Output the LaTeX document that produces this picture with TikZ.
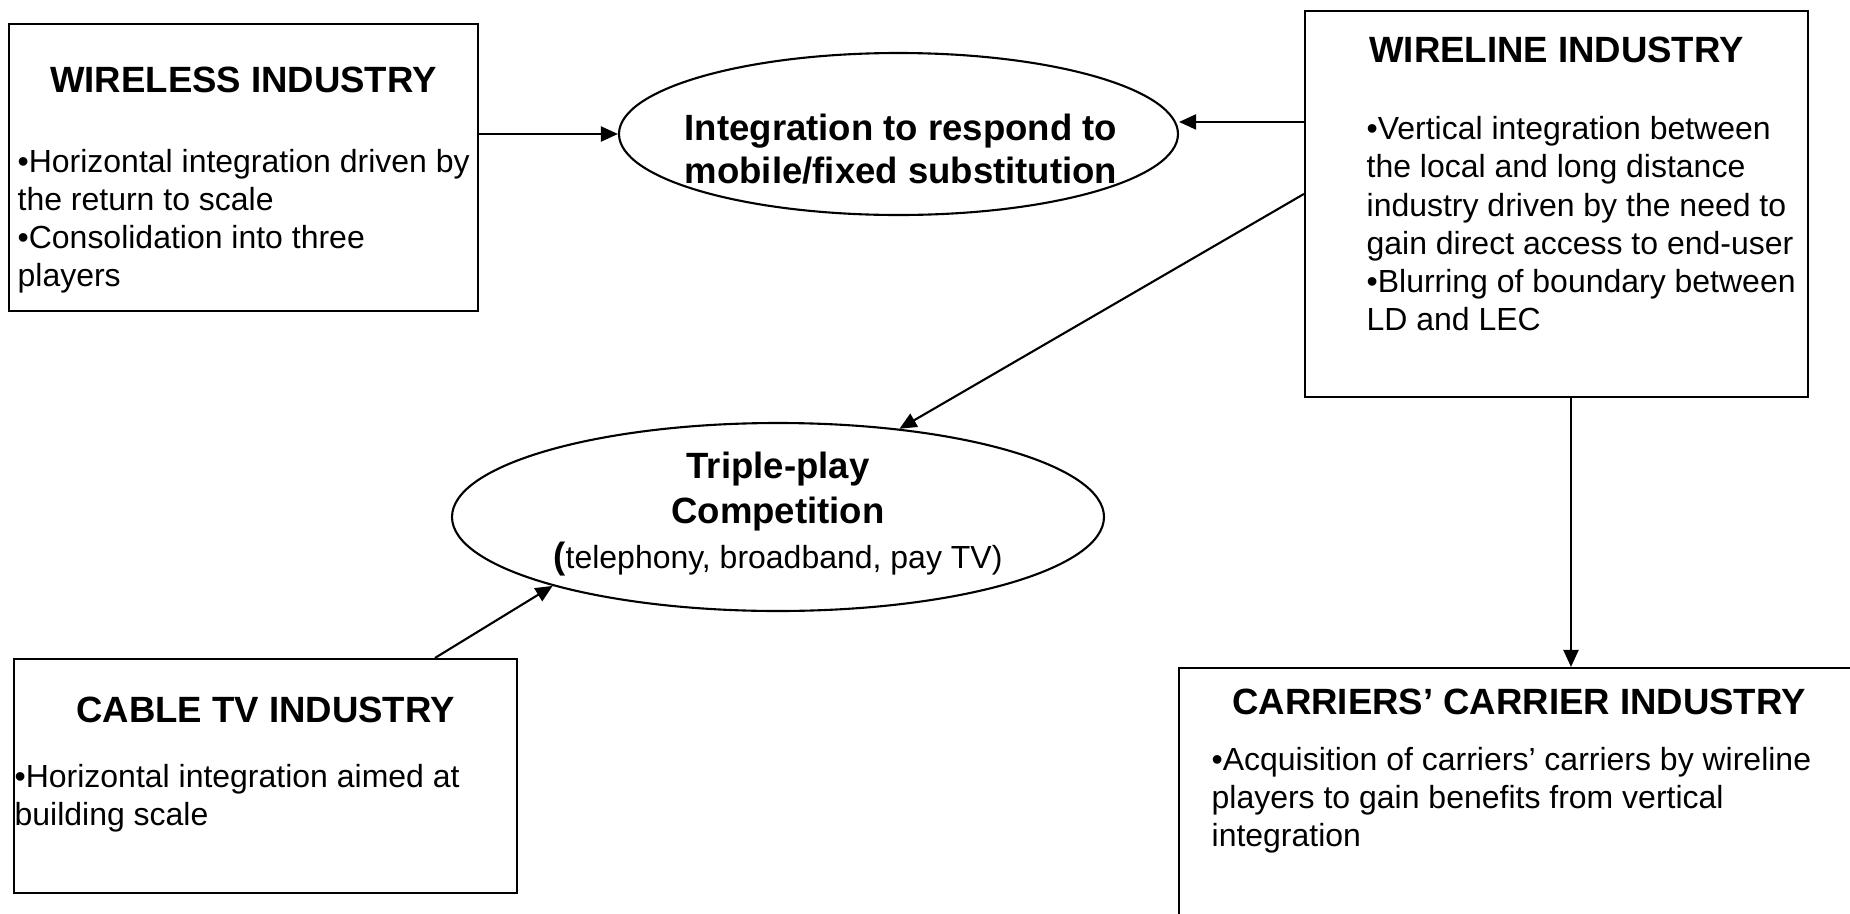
\documentclass[tikz,border=0pt]{standalone}
\usepackage{fontspec}
\setmainfont{Liberation Sans}
\usetikzlibrary{shapes,arrows.meta,positioning,calc}

\tikzset{
  industry/.style={draw, rectangle, line width=0.6pt, inner sep=0pt},
  market/.style={draw, ellipse, line width=0.6pt, inner sep=0pt},
  heading/.style={font=\fontsize{10.4}{12.5}\selectfont\bfseries, inner sep=0pt, anchor=base},
  bullets/.style={font=\fontsize{9.1}{10.9}\selectfont, align=left, inner sep=0pt, anchor=base west},
  link/.style={-{Triangle[length=1.7mm,width=1.5mm]}, line width=0.6pt},
}

\begin{document}
\begin{tikzpicture}[x=0.1mm, y=-0.1mm]
    % page frame
    \clip (0,0) rectangle (1850,914);

    % WIRELESS box top left
    \node [industry, minimum width=46.9mm, minimum height=28.7mm] (wireless) at (243.5,167.5) {};
    \node [heading] (wirelesstitle) at ($(wireless.north)+(0,70)$) {WIRELESS INDUSTRY};
    \node [bullets] (wirelesstext) at ($(wireless.north west)+(9,264)$)
        {•Horizontal integration driven by\\the return to scale\\•Consolidation into three\\players};

    % WIRELINE box top right
    \node [industry, minimum width=50.3mm, minimum height=38.6mm] (wireline) at (1556.5,204) {};
    \node [heading] (wirelinetitle) at ($(wireline.north)+(0,53)$) {WIRELINE INDUSTRY};
    \node [bullets] (wirelinetext) at ($(wireline.north west)+(62,321)$)
        {•Vertical integration between\\the local and long distance\\industry driven by the need to\\gain direct access to end-user\\•Blurring of boundary between\\LD and LEC};

    % CABLE TV box bottom left
    \node [industry, minimum width=50.3mm, minimum height=23.4mm] (cable) at (265.5,776) {};
    \node [heading] (cabletitle) at ($(cable.north)+(0,65)$) {CABLE TV INDUSTRY};
    \node [bullets] (cabletext) at ($(cable.north west)+(1,168)$)
        {•Horizontal integration aimed at\\building scale};

    % CARRIERS' CARRIER box bottom right (runs off the page)
    \node [industry, minimum width=68mm, minimum height=26.2mm] (carriers) at (1519,799) {};
    \node [heading] (carrierstitle) at ($(carriers.north)+(0,48)$) {CARRIERS’ CARRIER INDUSTRY};
    \node [bullets] (carrierstext) at ($(carriers.north west)+(33,180)$)
        {•Acquisition of carriers’ carriers by wireline\\players to gain benefits from vertical\\integration};

    % the two ellipses
    \node [market, minimum width=55.9mm, minimum height=16.2mm] (integ) at (898.5,134) {};
    \node [heading, align=center, font=\fontsize{10.4}{12.2}\selectfont\bfseries] (integtext) at (901,183)
        {Integration to respond to\\mobile/fixed substitution};
    \node [market, minimum width=65.2mm, minimum height=18.8mm] (triple) at (778,517) {};
    \node [heading, align=center, font=\fontsize{10.4}{12.8}\selectfont\bfseries] (tripletext) at (778,568)
        {Triple-play\\Competition\\(\fontsize{9.1}{12.8}\selectfont\mdseries telephony, broadband, pay TV)};

    % connections
    \coordinate (wlleft) at ($(wireline.north west)+(0,112)$);
    \coordinate (wlcross) at ($(wireline.north west)+(0,184)$);
    \coordinate (wlbottom) at ($(wireline.south)+(14.5,0)$);
    \coordinate (cbtop) at ($(cable.north)+(169.5,0)$);
    \draw [link] (integ.west -| wireless.east) -- (integ.west);
    \draw [link] (wlleft) -- (wlleft -| integ.east);
    \draw [link] (wlcross) -- (triple.36.8);
    \draw [link] (cbtop) -- (triple.197.6);
    \draw [link] (wlbottom) -- (wlbottom |- carriers.north);
\end{tikzpicture}
\end{document}
